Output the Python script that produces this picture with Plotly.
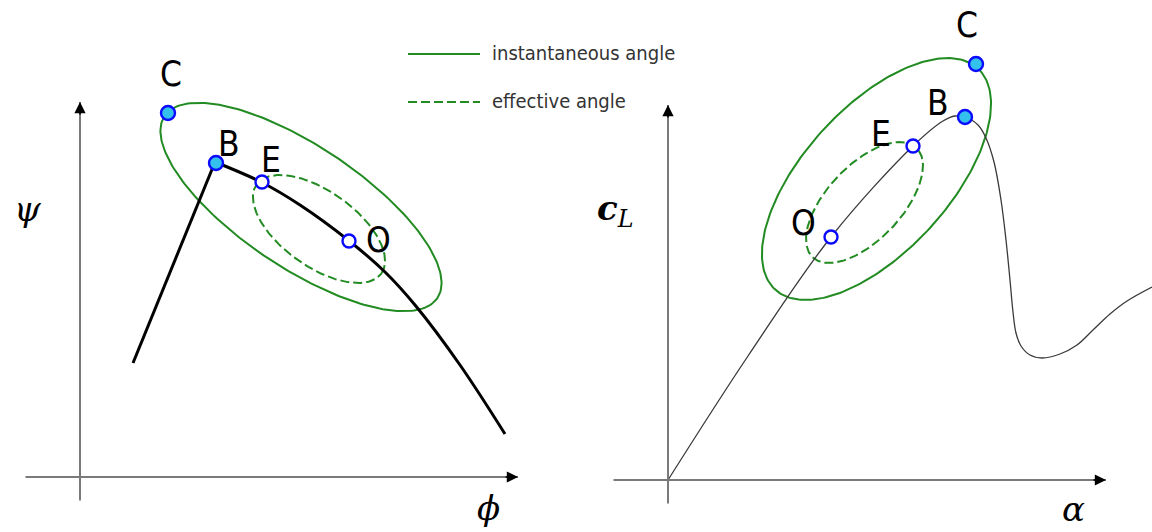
import numpy as np
import plotly.graph_objects as go

# ---- left panel: psi vs phi (local units, origin at axis crossing) ----
phi_curve = [53, 135, 181, 220, 268, 305, 335, 380, 425]
psi_curve = [114, 315, 295, 272, 237, 205, 172, 112, 43]

# ellipses: centre x, centre y, semi-major, semi-minor, tilt (deg)
left_inst = dict(cx=221, cy=270, a=164, b=61, tilt=-33.7)
left_eff = dict(cx=239, cy=248, a=76.6, b=37.6, tilt=-35.5)

left_pts = {"C": (88, 364), "B": (136, 314), "E": (182, 295), "O": (269, 236)}
left_lbl = {"C": (91, 403), "B": (149, 333), "E": (191, 317), "O": (298, 237)}

# ---- right panel: c_L vs alpha ----
alpha_curve = [0, 80, 163, 245, 275, 287, 297, 310, 318, 326, 333, 338, 342, 345,
               348, 353, 362, 374, 392, 409, 425, 442, 459, 484]
cl_curve = [0, 124, 243, 334, 359, 364, 363, 355, 342, 318, 280, 240, 200, 168,
            147, 134, 125, 122, 126, 135, 150, 166, 179, 193]

right_inst = dict(cx=208.5, cy=301, a=150, b=72.5, tilt=47.5)
right_eff = dict(cx=196.5, cy=277.5, a=75.4, b=37.3, tilt=46.6)

right_pts = {"C": (308, 416), "B": (297, 363), "E": (245, 334), "O": (163, 243)}
right_lbl = {"C": (299, 455), "B": (270, 377), "E": (213, 346), "O": (135, 257)}

legend_items = ["instantaneous angle", "effective angle"]

GREEN = "#228B22"
MARK_FILL = "#33c0ec"
MARK_EDGE = "#0a0aff"
AXIS_GREY = "#7a7a7a"
LABEL_FONT = "DejaVu Sans Condensed, DejaVu Sans"


def ellipse(p, n=241):
    t = np.linspace(0, 2 * np.pi, n)
    th = np.deg2rad(p["tilt"])
    u = p["a"] * np.cos(t)
    v = p["b"] * np.sin(t)
    x = p["cx"] + u * np.cos(th) - v * np.sin(th)
    y = p["cy"] + u * np.sin(th) + v * np.cos(th)
    return x, y


fig = go.Figure()


def panel(xa, ya, ell_inst, ell_eff, cx, cy, cw, ccol, pts, lbls, kinked):
    ex, ey = ellipse(ell_inst)
    fig.add_trace(go.Scatter(x=ex, y=ey, mode="lines", xaxis=xa, yaxis=ya,
                             line=dict(color=GREEN, width=2), hoverinfo="skip"))
    ex, ey = ellipse(ell_eff)
    fig.add_trace(go.Scatter(x=ex, y=ey, mode="lines", xaxis=xa, yaxis=ya,
                             line=dict(color=GREEN, width=2, dash="9px,4px"),
                             hoverinfo="skip"))
    if kinked:
        fig.add_trace(go.Scatter(x=cx[:2], y=cy[:2], mode="lines", xaxis=xa, yaxis=ya,
                                 line=dict(color=ccol, width=cw), hoverinfo="skip"))
        fig.add_trace(go.Scatter(x=cx[1:], y=cy[1:], mode="lines", xaxis=xa, yaxis=ya,
                                 line=dict(color=ccol, width=cw, shape="spline",
                                           smoothing=1.0), hoverinfo="skip"))
    else:
        fig.add_trace(go.Scatter(x=cx, y=cy, mode="lines", xaxis=xa, yaxis=ya,
                                 line=dict(color=ccol, width=cw, shape="spline",
                                           smoothing=1.0), hoverinfo="skip"))
    filled = ["C", "B"]
    for k, (px, py) in pts.items():
        fig.add_trace(go.Scatter(
            x=[px], y=[py], mode="markers", xaxis=xa, yaxis=ya, hoverinfo="skip",
            marker=dict(size=14 if k in filled else 13,
                        color=MARK_FILL if k in filled else "white",
                        line=dict(color=MARK_EDGE, width=2.4))))
    xr = "x" if xa == "x" else "x2"
    yr = "y" if ya == "y" else "y2"
    for k, (lx, ly) in lbls.items():
        fig.add_annotation(x=lx, y=ly, xref=xr, yref=yr, text=k, showarrow=False,
                           font=dict(family=LABEL_FONT, size=35, color="black"))
    # axes with arrow heads
    for (x0, y0, x1, y1) in [(0, -25, 0, 375), (-56, 0, 438, 0)]:
        fig.add_annotation(x=x1, y=y1, ax=x0, ay=y0, xref=xr, yref=yr, axref=xr,
                           ayref=yr, text="", showarrow=True, arrowhead=0,
                           arrowwidth=2, arrowcolor=AXIS_GREY)
        dx = np.sign(x1 - x0) * 14
        dy = np.sign(y1 - y0) * 14
        fig.add_annotation(x=x1, y=y1, ax=x1 - dx, ay=y1 - dy, xref=xr, yref=yr,
                           axref=xr, ayref=yr, text="", showarrow=True,
                           arrowhead=2, arrowsize=1.4, arrowwidth=1.6,
                           arrowcolor="black")


panel("x", "y", left_inst, left_eff, phi_curve, psi_curve, 3, "black",
      left_pts, left_lbl, True)
panel("x2", "y2", right_inst, right_eff, alpha_curve, cl_curve, 1.3, "#3a3a3a",
      right_pts, right_lbl, False)

# axis symbols
sym = dict(family="DejaVu Serif", size=34, color="black")
fig.add_annotation(x=-53, y=268, xref="x", yref="y", text="<i>ψ</i>",
                   showarrow=False, font=sym)
fig.add_annotation(x=408, y=-31, xref="x", yref="y", text="<i>ϕ</i>",
                   showarrow=False, font=sym)
fig.add_annotation(x=-53, y=270, xref="x2", yref="y2",
                   text="<b><i>c</i></b><sub><i>L</i></sub>",
                   showarrow=False, font=sym)
fig.add_annotation(x=405, y=-29, xref="x2", yref="y2", text="<i>α</i>",
                   showarrow=False, font=sym)

# legend
for i, (name, dash) in enumerate(zip(legend_items, ["solid", "9px,4px"])):
    ly = 423 - 48 * i
    fig.add_trace(go.Scatter(x=[328, 400], y=[ly, ly], mode="lines", xaxis="x",
                             yaxis="y", hoverinfo="skip",
                             line=dict(color=GREEN, width=2, dash=dash)))
    fig.add_annotation(x=410, y=ly + 1, xref="x", yref="y", text=name,
                       showarrow=False, xanchor="left",
                       font=dict(family=LABEL_FONT, size=20, color="#333333"))

ax_common = dict(visible=False, showgrid=False, zeroline=False, fixedrange=True)
fig.update_layout(
    width=1152, height=532, margin=dict(l=0, r=0, t=0, b=0),
    paper_bgcolor="white", plot_bgcolor="white", showlegend=False,
    xaxis=dict(range=[-80, 1072], domain=[0, 1], **ax_common),
    yaxis=dict(range=[-55, 477], domain=[0, 1], **ax_common),
    xaxis2=dict(range=[-668, 484], domain=[0, 1], overlaying="x", **ax_common),
    yaxis2=dict(range=[-52, 480], domain=[0, 1], overlaying="y", **ax_common),
)

fig.write_html("out.html")
